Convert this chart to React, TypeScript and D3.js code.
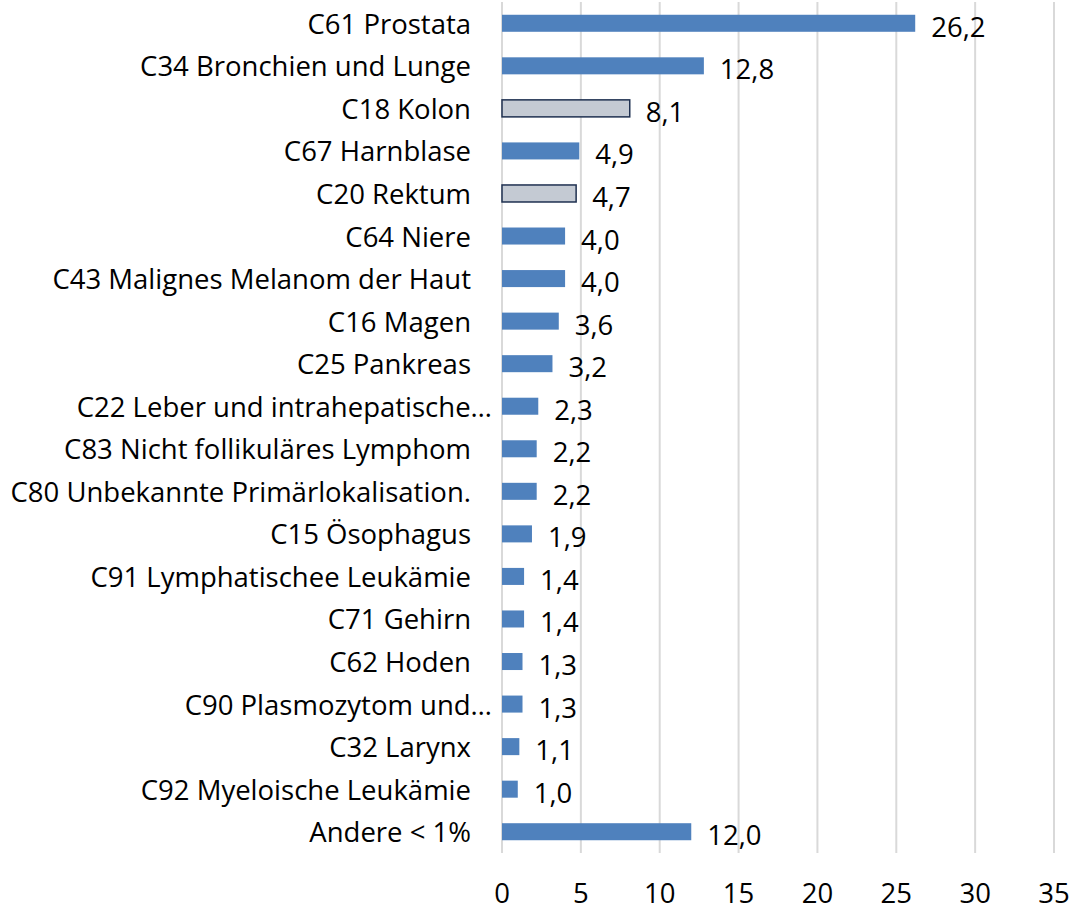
import React from "react";
import * as d3 from "d3";

const categories = [
  "C61 Prostata",
  "C34 Bronchien und Lunge",
  "C18 Kolon",
  "C67 Harnblase",
  "C20 Rektum",
  "C64 Niere",
  "C43 Malignes Melanom der Haut",
  "C16 Magen",
  "C25 Pankreas",
  "C22 Leber und intrahepatische…",
  "C83 Nicht follikuläres Lymphom",
  "C80 Unbekannte Primärlokalisation.",
  "C15 Ösophagus",
  "C91 Lymphatischee Leukämie",
  "C71 Gehirn",
  "C62 Hoden",
  "C90 Plasmozytom und…",
  "C32 Larynx",
  "C92 Myeloische Leukämie",
  "Andere < 1%",
];
const values = [26.2, 12.8, 8.1, 4.9, 4.7, 4.0, 4.0, 3.6, 3.2, 2.3, 2.2, 2.2, 1.9, 1.4, 1.4, 1.3, 1.3, 1.1, 1.0, 12.0];
const highlighted = ["C18 Kolon", "C20 Rektum"];
const xTicks = [0, 5, 10, 15, 20, 25, 30, 35];

const W = 1071;
const H = 910;
const FONT = "'Open Sans', 'Noto Sans', sans-serif";
const FS = 27.5;

export default function App() {
  const x = d3.scaleLinear().domain([0, 35]).range([502, 1054]);
  const y = d3.scaleBand<string>().domain(categories).range([2, 853]).paddingInner(0.6).paddingOuter(0.3);
  const fmt = (v: number) => v.toFixed(1).replace(".", ",");
  return (
    <svg width={W} height={H} style={{ position: "absolute", left: 0, top: 0, background: "#fff" }}>
      {xTicks.map((t) => (
        <line key={"g" + t} x1={x(t)} x2={x(t)} y1={2} y2={853} stroke="#d9d9d9" strokeWidth={2} />
      ))}
      {categories.map((c, i) => {
        const hl = highlighted.includes(c);
        const yy = y(c)!;
        const bh = y.bandwidth();
        const cy = yy + bh / 2;
        const ell = c.endsWith("…");
        return (
          <g key={c}>
            <rect
              x={x(0)}
              y={yy}
              width={x(values[i]) - x(0)}
              height={bh}
              fill={hl ? "#c4cad3" : "#4f81bd"}
              stroke={hl ? "#1f3050" : "none"}
              strokeWidth={hl ? 1.5 : 0}
            />
            <text
              x={x(values[i]) + 16}
              y={cy + 3}
              dominantBaseline="central"
              fontFamily={FONT}
              fontSize={FS}
              fill="#000"
            >
              {fmt(values[i])}
            </text>
            <text
              x={ell ? 492 : 471}
              y={cy}
              textAnchor="end"
              dominantBaseline="central"
              fontFamily={FONT}
              fontSize={FS}
              fill="#000"
            >
              {c}
            </text>
          </g>
        );
      })}
      {xTicks.map((t) => (
        <text key={"t" + t} x={x(t)} y={903} textAnchor="middle" fontFamily={FONT} fontSize={FS} fill="#000">
          {t}
        </text>
      ))}
    </svg>
  );
}
